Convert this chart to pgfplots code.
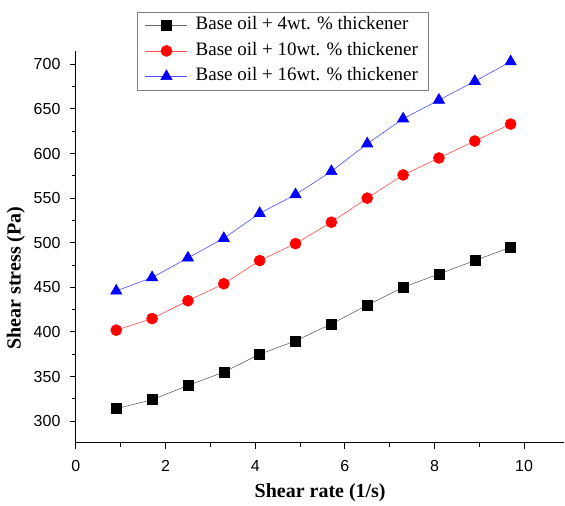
\documentclass[border=0pt]{standalone}
\usepackage{pgfplots}
\pgfplotsset{compat=1.18}
\usepackage{fontspec}
\setmainfont{Liberation Serif}
\newfontfamily\arialfont{Liberation Sans}
\begin{document}
\begin{tikzpicture}
\begin{axis}[
    scale only axis,
    width=489pt, height=392pt,
    xmin=0, xmax=10.9,
    ymin=276, ymax=715,
    axis x line*=bottom,
    axis y line*=left,
    axis line style={line width=1.1pt},
    xtick={0,2,...,10},
    minor xtick={1,3,...,11},
    ytick={300,350,...,700},
    minor ytick={325,375,...,725},
    tick align=outside,
    major tick length=6pt,
    minor tick length=4pt,
    tick style={line width=1pt, black},
    ticklabel style={font=\arialfont\fontsize{16}{19}\selectfont},
    xticklabel style={yshift=-8pt},
    yticklabel style={xshift=-6pt},
    /pgf/number format/assume math mode=true,
    xlabel={\textbf{Shear rate (1/s)}},
    ylabel={\textbf{Shear stress (Pa)}},
    label style={font=\fontsize{20}{23}\selectfont},
    xlabel style={yshift=-5pt},
    ylabel style={at={(ticklabel cs:0.42)}, yshift=2pt},
    legend style={at={(0.125,1.1)}, anchor=north west, draw=gray,
        font=\fontsize{19}{21}\selectfont, inner xsep=8pt, inner ysep=2pt,
        row sep=2.5pt,
        nodes={text height=14pt, text depth=5pt},
        /tikz/every odd column/.append style={column sep=6pt}},
    legend cell align=left,
    legend image code/.code={
        \draw[mark repeat=2, mark phase=2, #1]
        plot coordinates {(0pt,0pt) (21pt,0pt) (42pt,0pt)};},
]
\addplot[gray!80!black, line width=0.6pt, mark=square*, mark size=5pt,
    mark options={black, fill=black}]
    coordinates {
    (0.9,314) (1.7,324) (2.5,340) (3.3,355) (4.1,375) (4.9,390)
    (5.7,409) (6.5,430) (7.3,450) (8.1,465) (8.9,480) (9.7,495)
    };
\addlegendentry{Base oil + 4wt. \% thickener}
\addplot[red!70, line width=0.6pt, mark=*, mark size=5.5pt,
    mark options={red, fill=red}]
    coordinates {
    (0.9,402) (1.7,415) (2.5,435) (3.3,454) (4.1,480) (4.9,499)
    (5.7,523) (6.5,550) (7.3,576) (8.1,595) (8.9,614) (9.7,633)
    };
\addlegendentry{Base oil + 10wt. \% thickener}
\addplot[blue!70, line width=0.6pt, mark=triangle*, mark size=6.5pt,
    mark options={blue, fill=blue}]
    coordinates {
    (0.9,446) (1.7,461) (2.5,483) (3.3,505) (4.1,533) (4.9,554)
    (5.7,580) (6.5,611) (7.3,639) (8.1,660) (8.9,681) (9.7,703)
    };
\addlegendentry{Base oil + 16wt. \% thickener}
\end{axis}
\path[use as bounding box] (-76pt,-63pt) rectangle (489pt,443pt);
\end{tikzpicture}
\end{document}
